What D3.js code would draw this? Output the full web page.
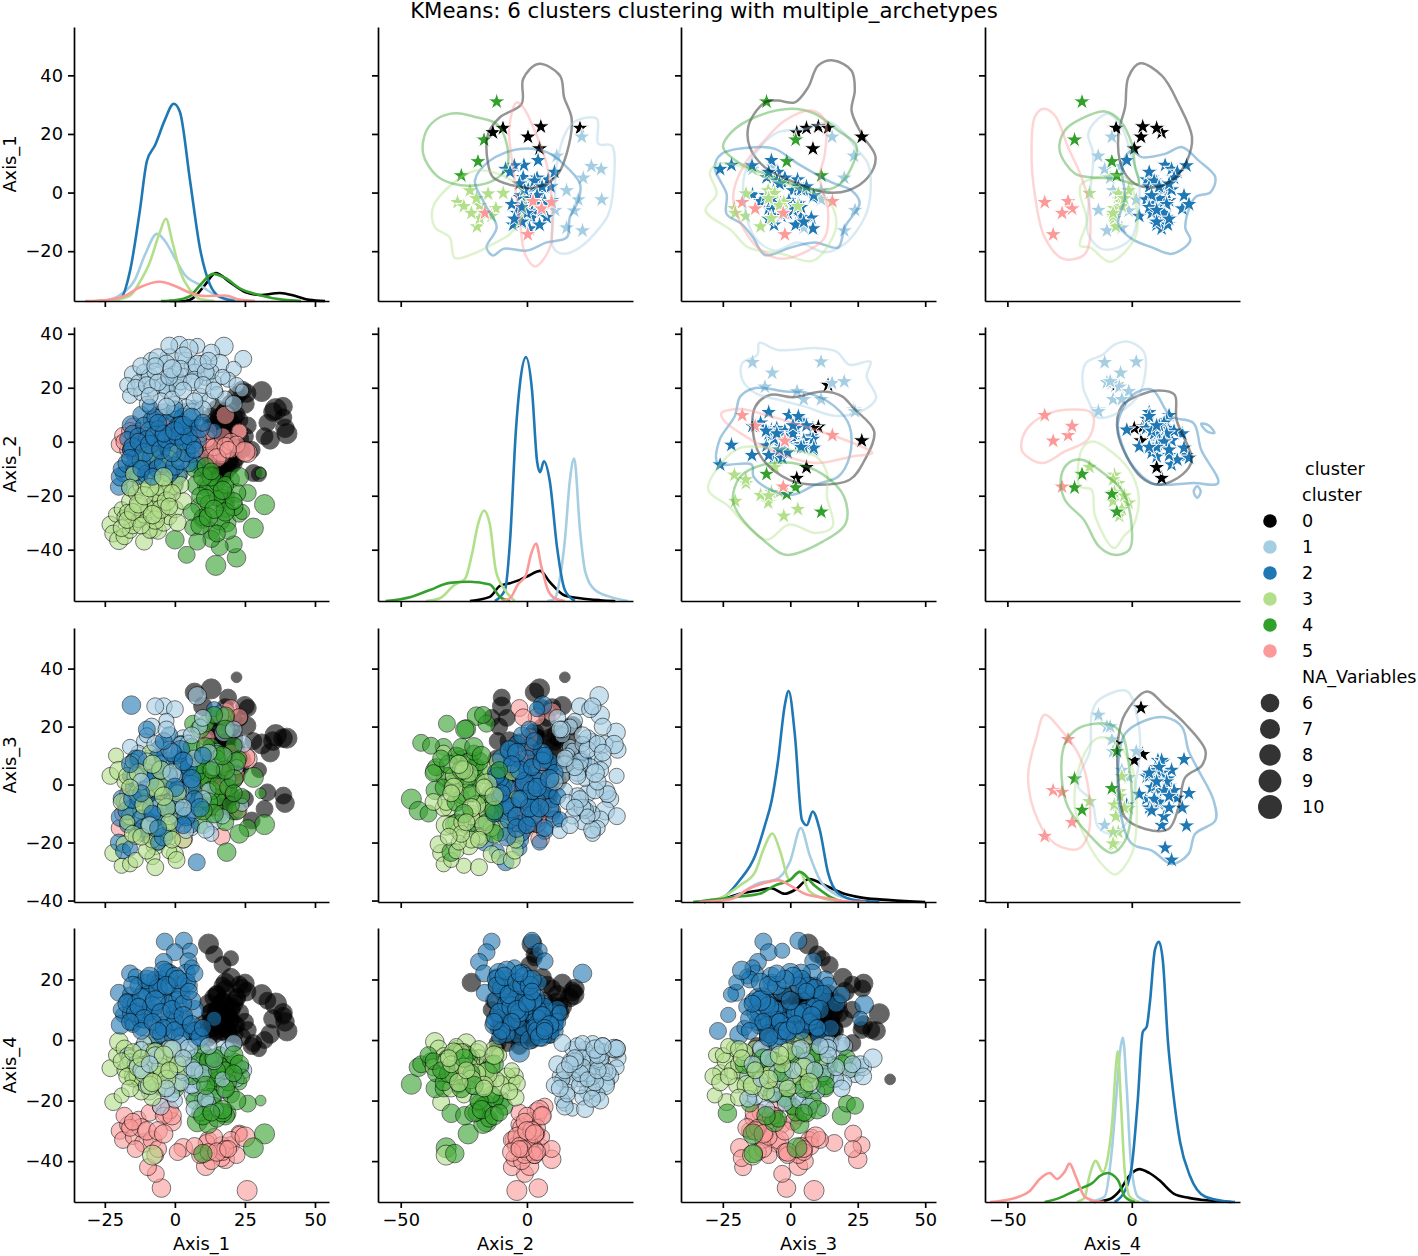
<!DOCTYPE html>
<html>
<head>
<meta charset="utf-8">
<script src="https://cdn.jsdelivr.net/npm/d3@7"></script>
<style>
  body { margin: 0; background: #fff; }
  text { font-family: "DejaVu Sans", sans-serif; fill: #000; }
  .axis text { font-size: 17.8px; }
  .axis path, .axis line { stroke: #000; stroke-width: 1.7px; }
</style>
</head>
<body>
<div id="chart"></div>
<script>
// Labels
const axisNames = ["Axis_1", "Axis_2", "Axis_3", "Axis_4"];
const clusterNames = ["0", "1", "2", "3", "4", "5"];
const clusterColors = ["#000000", "#a6cee3", "#1f78b4", "#b2df8a", "#33a02c", "#fb9a99"];
const naLevels = [6, 7, 8, 9, 10];

// Tick values and axis limits, one entry per variable
const ticksX = [[-25, 0, 25, 50], [-50, 0], [-25, 0, 25, 50], [-50, 0]];
const ticksY = [[-20, 0, 20, 40], [-40, -20, 0, 20, 40], [-40, -20, 0, 20, 40], [-40, -20, 0, 20]];
const limitsX = [[-36, 55], [-59, 42], [-40.5, 54], [-59, 43.5]];
const limitsY = [[-37, 56.5], [-59, 42.5], [-40.5, 54], [-53.5, 37]];

// Observations: Axis_1, Axis_2, Axis_3, Axis_4, NA_Variables
const points0 = [
  [40,3,16,3,7],[36,12,17,12,8],[38.6,13,16,9,6],[35,11,15,7,6],[34,0.7,11,2,6],[33,7,-2.7,13,5],
  [38.7,9,-3.8,8,5],[39.3,5,-6.4,6,6],[32,2,-8.4,0,5],[27.4,-3,-12.4,-2,5],[25,14,27.2,18.7,6],
  [31,18.6,14,15,7],[25.6,18,20.3,16,6],[28,-11.6,15,-1,5],[30,-12,5,-3,4],[18,10,26.7,17,5],
  [13,5,33,8.7,7],[7,3,31.8,3,6],[19,-10,30,3.3,5],[22,15,37,-13,2],[12,2,6.6,31.7,7],[14,3,10,28.3,5],
  [17,1,14.6,24.8,5],[20,3,12,27,4],[20,6,19.5,20.6,6],[23,8,23,18.3,5],[15,-14,23,10,5],[10,-10,27,5,6],
  [14,-11,20,7,5],[18,-22,5,19,6],[26,6,26.4,3.3,5],[21,-8,23,-1,5],[13,-8,-5,6,6],[15,-5,2,10,6],
  [17,-2,8,3,6],[19,1,12,8,6],[21,4,16,12,6],[14,6,-8,2,6],[16,9,6,5,6],[18,11,10,11,6],[20,-9,-7,7,5],
  [22,-6,4,14,5],[24,-3,9,1,5],[14,0,13,14,6],[16,3,18,9,6],[18,-11,0,4,6],[20,7,-4,10,6],[22,10,13,5,5],
  [12,-4,4,12,6],[15,12,1,15,6],[25,2,-5,6,5],[17,-13,-7,13,5],
  [12,2,3,1,6],[14,5,9,3,6],[16,8,-3,6,6],[18,11,7,8,6],[20,14,4,11,6],[22,17,11,14,6],[24,19,8,17,6],[13,-6,11,9,6],
  [15,-9,-2,15,5],[17,-12,9,18,5],[19,-7,15,2,6],[21,-4,-9,5,6],[23,1,6,9,6],[15,1,0,7,7],[17,4,4,12,7],[19,-3,14,6,7],
  [13,9,16,4,6],[21,9,2,2,6]
];
const points1 = [
  [1.6,35.9,12,-6,5],[8,35.5,3,-9,4],[17.5,35.3,18,-3,6],[13,33,-5,-12,5],[24.4,30.7,14,-10,5],[16,29,24,-11,6],
  [21,27,9,-8,4],[-2,31,-9,-14,6],[-8.3,30,20,-2,5],[-6,31,-2,-15,6],[-3,29,-12,-7,5],[4,30,8,-4,5],[6,28,-15,-18,4],
  [10,29,5,-20,5],[-15,25,6,-12,5],[-11,26,15,-1,4],[-17,21,-6,-5,4],[-13,22,11,-9,4],[-9,24,-3,-17,5],[-4,21,27,-9,5],
  [0,25,26,-8,5],[3,24,16,-13,5],[7,26,-10,-16,4],[11,24,-8,-5,5],[14,22,-13,-19,4],[19,23,2,-3,4],[22,21,6,-13,4],
  [24,19,-7,-9,3],[-16,17,13,-7,4],[-12,18,-11,-3,4],[-8,20,4,-11,5],[-3,19,22,-10,4],[1,20,-4,-2,5],[8,28.6,30.6,-6,6],
  [-7,26,27,-12,5],[9,17,20,-14,4],[12,15,-2,-21,4],[15,18,12,-23,3],[18,16,10,-17,4],[4,13,-16,-12,4],[0,14,3,-20,4],
  [-5,15,7,-22,5],[-10,14,17,-13,4],[6,11,1,-15,5],[10,12,23,-8,5],[2,22,14,-1,4],[-1,16,-6,-18,4],[21,14,19,-1,5],
  [13,26,-17,-6,4],[5,34.5,13.8,-2.8,6],[-2,35.6,-10.9,-2.8,5],[3,32,-3.3,-10.6,5],[7,23,-8.8,-22.8,5],[11,25.8,-15.6,-19.4,5],
  [-14,20,3,-8,5],[-10,21,8,-15,5],[-6,22,-8,-6,5],[-2,24,12,-11,5],[2,27,-2,-14,5],[6,22,17,-9,5],[10,21,-5,-11,5],
  [14,19,6,-7,5],[17,24,-11,-13,4],[-12,28,1,-10,5],[-7,28,14,-5,5],[-1,27,4,-3,6],[3,19,-8,-6,5],[7,15,9,-10,5],
  [-3,13,19,-16,5],[12,30,11,-2,5],[-9,17,-14,-8,5]
];
const points2 = [
  [-3.6,-14,-10,32.5,5],[3.2,2,3,32.8,5],[0,-16,-8,29,5],[5.4,5,-3,29.5,4],[-4,-19,-12,25.8,5],[4.8,7,8.5,26,5],
  [-16,-17,-13,22,5],[-14,-12,-16,21,4],[-20,-16.7,-20,15.6,5],[-18.5,-12,-23,8.3,4],[7.8,-8.5,-26.8,3,5],[-16,-3,-22,15,4],
  [-15.5,6.2,27.4,11.7,6],[-19.4,-13,-11.3,5,6],[-19,-10,-4.8,10,5],[14,4,26,7,4],[-2,22,8,22,6],[-6,-3,-19,1.7,6],[-7,-3,4,-4,7],
  [-12,10,-9,7,5],[-8,8,-1,9,6],[-4,11,3,5,5],[0,10,-5,9,5],[4,11,-12,6,5],[7,12,6,10,6],[-15,3,-8,6,5],[-11,6,2,8,5],
  [-7,9,8,5,5],[-3,7,-16,11,5],[1,6,10,4,5],[5,8,-2,2,5],[-17,1,-14,13,4],[-13,2,6,18,5],[-9,4,-6,10,6],[-5,1,13,20,5],
  [-1,3,-10,14,7],[3,4,1,7,6],[-16,-3,3,9,4],[-12,-2,-17,4,4],[-8,-1,-3,16,6],[-4,-4,7,17,7],[0,-1,-13,9,5],[4,-2,4,22,6],
  [-14,-6,9,12,5],[-10,-5,-7,19,5],[-6,-7,12,14,5],[-2,-6,-2,6,6],[2,-4,14,18,5],[6,-5,-14,24,4],[-15,-9,-1,5,4],[-11,-10,5,16,5],
  [-7,-9,-15,20,5],[-3,-11,0,22,7],[1,-12,-9,13,6],[5,-8,7,18,5],[-13,-13,-5,7,4],[8,1,-6,0,6],[-5,-8,-1,2,5],[-1,-11,-4,1,4],
  [3,9,-8,2,6],[7,11,4,3,5],[0,12,-4,6,5],[2,6,11,1,6],[-9,13,-12,9,4],[-2,-2,17,12,5],[-10,1,19,15,5],[-6,5,-20,19,4],
  [-17,-8,-9,12,6],[-14,-11,2,9,6],[-12,-7,-12,14,6],[-10,-12,4,20,6],[-8,-6,-8,11,7],[-6,-10,9,17,6],[-4,-8,-18,23,6],
  [-2,-12,3,18,5],[0,-9,-7,21,6],[2,-7,12,15,6],[4,-4,-11,19,6],[6,-1,0,13,6],[-15,-2,-5,18,6],[-13,0,9,11,5],[-11,-4,-15,7,6],
  [-9,-1,1,21,6],[-7,2,-11,13,7],[-5,-3,5,9,6],[-3,1,-8,18,6],[-1,-4,11,10,6],[1,2,-2,20,6],[3,0,-14,12,5],[5,2,6,16,5],
  [7,-3,-5,22,5],[-16,-6,7,6,5],[-12,-10,-3,3,5],[-8,-13,-10,6,5],[-4,3,15,4,5],[0,4,-1,3,6],[3,6,8,8,6],[6,9,2,5,6],
  [9,5,-8,1,6],[10,7,10,4,5],[-6,7,-15,3,5]
];
const points3 = [
  [-23,-30.7,3,-9.3,5],[-21,-27,10,-5,4],[-22,-34,-23.6,-20.5,5],[-19,-25,-28,-18.3,4],[-8,-32,-14,-38,7],[-20,-36.5,4.8,-0.6,6],
  [-18,-35,-20.6,-2.8,5],[-16,-33,-27.5,-5,4],[-14,-30,-26,-10.6,4],[-12,-28,-13,-3,5],[-10,-26,-5,-8,5],[-8,-24,2,-1,6],
  [-6,-22,-10,-6,5],[-4,-20,6,-4,5],[-2,-18,-18,-9,5],[0,-14,-24,-7,5],[2,-12,6,-5,4],[-15,-31,-8,-12,5],[-13,-29,0,-7,4],
  [-11,-27,-16,-13,5],[-9,-25,9,-4,5],[-7,-23,-21,-10,6],[-5,-21,-3,-15,6],[-3,-19,-12,-6,5],[-1,-16,-6,-14,7],[1,-13,3,-3,5],
  [-18,-28,1,-10,4],[-16,-22,-11,-6,5],[-14,-19,-18,-11,4],[-12,-16,5,-14,5],[-10,-14,-2,-9,5],[-8,-11,-25,-5,4],[-6,-33,-8,-11,5],
  [-4,-30,-14,-16,5],[-2,-28,-23,-2,4],[0,-25,0,-12,5],[3,-22,-19,-8,5],[-11,-37,-6,-9,5],[-9,-33,11,-7,4],[-7,-19,-28.5,-12,5],
  [-6,-27,-20,-15,4],[0.6,-6,-26,-14,5],[-10,-4.8,-22.8,-12,5],[-5,-8,-11,-12,5],[-3,-10.7,-16,-15,7],[1,-4,-5,-14.4,5],
  [-8,-4.5,-19,-19,5],[-12,-7,-9,-17,5],[-2,-6,4,-10,4],[-15,-12,8,-13,4],[-7,-14,-15,-8,5],[2,-16,-9,-10,5],[-13,-24,-3,-12,6],
  [-17,-26,-13,-8,4],[-5,-16,0,-11,8],
  [-19,-32,-6,-7,5],[-17,-29,3,-12,5],[-15,-26,-17,-4,5],[-13,-23,4,-9,6],[-11,-20,-7,-11,6],[-9,-17,-14,-15,6],[-7,-29,-1,-4,6],
  [-5,-25,5,-9,6],[-3,-22,-8,-13,6],[-1,-19,-19,-3,5],[1,-30,-3,-8,5],[-16,-17,-1,-16,5],[-12,-31,-18,-6,5],[-8,-27,7,-14,6],
  [-4,-13,-4,-5,6],[-2,-24,-13,-10,5]
];
const points4 = [
  [32,-23.3,-13.8,-31,7],[30.6,-11.6,-3,-20,2],[28,-32,2.5,-35.6,7],[26,-19,-15,-21,5],[14.6,-45.8,-5,-14.6,7],[22,-43,-9,-9,6],
  [4.2,-41.9,14.4,-8,5],[0,-36.3,-2,-16,6],[18.5,-30,-23.3,-24.2,6],[10,-28.6,-13.7,-37.5,6],[6.5,-31.7,21,-6,5],[18,-20,23.6,-9,6],
  [9,-24,19.2,-8,6],[13,-33,13,-16,5],[21,-38,13.4,-7,5],[16,-39,-10,-5,5],[23,-27,9,-14,4],[18,-24.6,19,-25,6],[11,-16,21,-21,5],
  [14,-17.4,24,-21.7,5],[8,-16,-5.8,-27,7],[12,-17.4,3.5,-27.8,6],[15,-15,-4.5,-26,5],[9,-20,2,-24,5],[7,-10,-1,-20,5],[11,-9,1,-22,5],
  [13,-13,-2,-19,6],[17,-21,6,-24,6],[20,-14,-7,-18,5],[22,-19,8,-20,6],[24,-26,-4,-12,4],[10,-28,10,-4,5],[13,-36,6,-11,5],[16,-29,0,-9,7],
  [19,-33,-1,-14,5],[8,-37,4,-7,5],[6,-26,13,-12,5],[12,-23,8,-6,5],[15,-21,11,-13,4],[18,-16,-13,-10,5],[21,-24,2,-5,6],[23,-13,-17,-8,6],
  [9,-31,7,-11,6],[12,-28,-6,-7,6],[15,-34,9,-10,5],[18,-26,5,-16,6],[21,-22,-3,-11,5],[11,-21,13,-15,6],[14,-25,-10,-6,6],
  [17,-18,10,-23,6],[10,-13,-9,-25,6],[13,-11,5,-24,5]
];
const points5 = [
  [25.8,-4,8.8,-49.7,7],[-4.8,4.5,-1.4,-48.9,6],[-6.8,-0.8,-3,-44.2,5],[18,9.8,25,-39.4,6],[20,-3,26.4,-34.7,5],[23,3.8,23.3,-30.9,5],
  [3,5.2,-18.7,-35.6,6],[-9.6,-6,-17.5,-42,5],[16.7,-5,-18,-39,5],[11,1,3,-41.7,6],[13,-2,5.4,-40,5],[-19.7,-1,-15,-30,5],
  [-18.5,2.2,-10,-33,5],[-16.7,-3,-3.2,-28,5],[-15,6,8,-32,4],[-13,4,-14,-26,4],[-11,0,-5,-34,6],[-9,-3,-11,-24,5],[-7,3,-8,-38,5],
  [-5,7,1,-22,5],[-3,4,-13,-24,7],[-1,2,-9,-27,6],[1,0,-12,-37,5],[-2,5,-6,-23,6],[-12,-2,-16,-29,6],[-8,-5,-4,-33,6],[-4,6,3,-25,5],
  [-14,3,5,-36,5],[-6,9.8,-10,-36,5],[11.9,-6,7,-33,5],[23,3.8,-9,-31,4],[16.7,-4,7.2,-35,6],[11.3,1,16.3,-34,5],[14,-2,-8,-32,5],
  [17,2,-2,-37,5],[20,0,11,-33,5],[22,-1,3,-38,5],[25,-3.6,9.4,-32,7],[9,3,-1,-38,5],[7,-3,4,-35,5],[18,-1.5,23.2,-36,5],
  [-18,0,-6,-25,5],[-16,4,-12,-29,5],[-15,-1,1,-27,5],[-10,2,-13,-30,6],[-6,0,-2,-30,6],[-1,6,-7,-25,6],[-4,3,-10,-31,6],
  [12,4,5,-37,5],[15,-6,-1,-37,6],[19,-3,5,-36,5]
];
const pointsByCluster = [points0, points1, points2, points3, points4, points5];

// Star markers of the upper triangle: Axis_1, Axis_2, Axis_3, Axis_4
const stars0 = [[20.5,-13.5,2.4,12],[22,-9.5,6,10],[19,0.4,26.5,3.7],[22.5,5.5,10.4,4.4],[15,5,8.4,1],[22,21,14,-6.3]];
const stars1 = [[19,21.7,15.5,-8],[12.5,11.8,23.6,-13.5],[8,29.4,-14,-10.9],[-2.4,29.6,11.4,1.8],[9,25.5,-6.7,-4.5],[-13,22,20,-10],
  [-2.4,20.3,-9.4,-5],[-6.2,18.7,2.5,-1.2],[0.7,15.7,11.4,-7.5],[-12,15.7,5,-4],[-6,11.2,24,-13.4],[5,22.3,20,-8.7]];
const stars2 = [[11,4.4,-7,-2],[9.4,-1.2,-21.8,13.4],[9.2,-5,-14.2,22],[8,-8.5,-26,16],[7,-6.7,-4.6,18.3],[5.2,-1.5,-8.8,8],[4.4,8.4,2.7,6],
  [3.5,2.5,-3,10],[0.7,1.2,1,13.8],[-0.7,5.8,-14,12],[-1.6,-2.8,8.4,10.5],[-2.4,5,-5,5.8],[-2.7,9.8,-0.5,15],[-3.8,-1.5,3,9],
  [-5.5,3,-8,20.3],[-8,-1.8,-3.3,3],[-8.6,1.9,7.8,12.4],[-8.4,7.8,4,14],[-11,-5.5,-6,10],[-12.3,1,8.4,12],[-11,5,2,14.5],
  [7,10.9,-8,7],[2,9.4,3,7],[-6,2.6,-6.7,11],[-1,-2.3,8.7,21],[-4,-6,-3,23],[1,0.5,5,16],[-7,-4,-1,8],[-3,7,-11,13],[5,4,-2,17],
  [-2,1,-6,11],[1,-1,4,12],[4,3,-5,9],[-4,3,1,14],[-7,0,-2,13],[-10,-2,5,10],[2,6,6,11],[-1,4,-9,8],[-5,-2,4,7],[-6,6,1,10],[-9,-5,-8,15],[3,-3,-4,15]];
const stars3 = [[-3.3,-27.5,-2.4,-5],[0.7,-22.6,-8.2,-1.3],[-0.4,-15.4,-16.4,-5.4],[-0.2,-9.4,-5.8,-17],[-4.4,-18.7,-4,-4.7],[-5.4,-12.3,-20.7,-7],
  [-11.6,-19.8,-11,-6.4],[-8.8,-18.7,-7,-7],[-4.7,-25,2.8,-4],[-8,-14,-16.5,-7.5],[-7,-22,-20.4,-7.5],[-2,-20,-8,-3]];
const stars4 = [[31,-12,-8.8,-20],[18,-17,2,-23],[10.6,-19.4,-1.3,-8],[5.8,-26,11.5,-6]];
const stars5 = [[-14.3,0.3,-2,-31.6],[-3,2.4,15.6,-25.6],[-5.5,5.8,-13,-24],[-3.3,9.8,-17.8,-35],[-7,-16.7,-2.6,-28]];
const starsByCluster = [stars0, stars1, stars2, stars3, stars4, stars5];

// Diagonal density curves: value, density as percent of axis height
const kdeAxis1 = [
  [[-2,0],[3.6,0],[7,1.5],[10.7,5.8],[14.6,10.2],[19.6,6.9],[25,3.3],[30.4,2.2],[37.5,2.9],[43,1.8],[48,0.4],[53.6,0]],
  [[-25,0],[-19.6,2.2],[-14.3,7.7],[-10.7,16.8],[-6.4,24.5],[-3.6,22],[0,15.7],[3.6,9.5],[9,5.8],[14.3,2.2],[19.6,0.7],[25,0]],
  [[-27,0],[-19.6,0.7],[-16,11],[-12.5,33],[-10,51],[-7,57],[-3.6,66],[-0.4,72],[1.8,69],[5.4,44],[9,19],[12.5,6],[16,1.5],[21.4,0]],
  [[-28,0],[-21.4,0.4],[-16,2],[-12.5,7],[-9,14],[-5.4,25],[-3.2,30],[-1,22],[1.8,11],[5.4,4],[9,0.7],[14,0]],
  [[-5,0],[0,0.3],[5.4,1.8],[9,5.8],[13.6,9.9],[18,8.4],[23,4.7],[30,2.2],[39,0.4],[45,0]],
  [[-32,0],[-25,0.3],[-18,1.8],[-12.5,5],[-5.4,7],[0,5.5],[5.4,3],[10.7,1.8],[18,2],[23,0.5],[28.6,0]]
];
const kdeAxis2 = [
  [[-22.6,0],[-14.7,1.5],[-10.7,5.5],[-6.7,6.5],[-2.8,7.7],[1.2,9.5],[5.2,11],[9,7],[15,2],[21,1],[29,0.3],[35,0]],
  [[8,0],[11,0.8],[13,8],[15,22],[17,44],[18.7,52],[21,26],[23,11],[27,4],[33,1.5],[40,0]],
  [[-12.7,0],[-8.7,4],[-6.7,22],[-4.4,62],[-2.8,79],[-0.4,89],[2,77],[4,51],[5.2,47],[6.7,51],[9,44],[12,19],[15,4],[19,0]],
  [[-40,0],[-34.5,1],[-28.6,6],[-24.6,8],[-21.8,17],[-19.4,28],[-17,33],[-14.7,28],[-12.3,11],[-8.7,4],[-4.8,0]],
  [[-56,0],[-46,1.5],[-38.5,4],[-30.6,6.6],[-22.6,7],[-14.7,6],[-10.7,1.5],[-6.7,0]],
  [[-10,0],[-6.7,1],[-3.6,6],[-0.4,9.5],[1.6,17],[3.6,21],[5.6,13],[8.3,4],[11,1],[15,0]]
];
const kdeAxis3 = [
  [[-32,0],[-26,0.7],[-18.7,3],[-13,4],[-7,5],[-2,3],[1.7,4.4],[7,8.4],[13,6],[20,3],[27,1.5],[37,0.7],[50,0]],
  [[-30,0],[-20.6,2],[-11.3,7],[-5.8,8],[0,15],[3.9,27],[7.2,17],[11,8],[16.5,3],[24,0.7],[29,0]],
  [[-32,0],[-26,1],[-18.7,8],[-13,17],[-9.4,28],[-6.9,37],[-4.6,51],[-2,72],[-0.6,77],[1.7,61],[4.3,30],[6.1,28],[8.3,33],[11,26],[13.9,11],[18,3],[25,0.5],[33,0]],
  [[-36,0],[-26,1.5],[-18.7,6],[-13,11],[-10,19],[-6.6,25],[-3.9,19],[-0.2,8],[3.5,11],[7,4],[14.6,0.7],[22,0]],
  [[-36,0],[-18.7,2],[-11.3,3],[-5.8,6],[-0.2,8],[3.5,11],[9,6],[14.6,2],[20,0]],
  [[-34,0],[-22,1],[-15,5],[-9.4,7],[-4.6,8],[0,6],[5.4,3],[12.8,1.5],[20,0.3],[28,0]]
];
const kdeAxis4 = [
  [[-15,0],[-9,1],[-5,4],[-1,9.5],[3,12],[7,10.6],[11,8],[17,3],[23,1.5],[29,0.7],[40,0]],
  [[-17,0],[-10.9,2],[-8,19],[-6,41],[-4.7,55],[-3.6,60],[-2,41],[-0.4,15],[2.4,2],[7,0]],
  [[-6.9,0],[-2.8,4],[0,13],[2.4,37],[4.4,62],[6,64],[7.3,73],[9.3,92],[10.9,95],[12.5,88],[14.5,59],[16.5,41],[19.4,22],[23.4,9.5],[29.4,2],[37.5,0.3],[41.5,0]],
  [[-22,0],[-19,1.5],[-17,9.5],[-14.5,15],[-11.7,11],[-9.7,16],[-7.7,31],[-6.5,48],[-5.6,55],[-4.4,37],[-2.8,11],[-0.8,2],[3.2,0]],
  [[-35,0],[-29,1.5],[-23,4],[-19,5.5],[-15.7,7],[-12.9,9.5],[-9.7,10.6],[-5.6,8],[-2.8,2],[1.2,0]],
  [[-57,0],[-49,1],[-41,4],[-37,8.4],[-33,10.6],[-30,8.4],[-27,11],[-25,14],[-22.6,9.5],[-19,2],[-15,0.4],[-11,0]]
];
const kdeByAxis = [kdeAxis1, kdeAxis2, kdeAxis3, kdeAxis4];

// Density contours of the upper triangle, x variable then y variable
const contour12 = [
  [[4.5,43.9],[13.1,39.9],[14.7,32.5],[17.7,25.2],[15.7,13.2],[11.8,5.8],[3.8,1.8],[-5.4,2.4],[-13.4,5.2],[-15.4,9.8],[-15.4,20],[-10.7,25.7],[-2.1,30.3],[-1.5,38.8]],
  [[19.7,24.6],[27.7,25.2],[28.3,16.6],[33.6,16],[34.2,1.8],[32.3,-7.3],[29,-11.8],[21,-18.7],[14.4,-20.9],[10.4,-18.7],[11.1,-2.7],[11.8,9.8],[15.8,21.2]],
  [[-2.8,14.9],[7.8,13.8],[14.4,9.8],[21,3],[20.4,-2.7],[17,-8.4],[15.8,-15.3],[7.8,-17],[-0.1,-19.8],[-9.4,-19.2],[-13.4,-21.5],[-16,-18.7],[-12,-11.8],[-16.7,-3.9],[-20.6,4.1],[-14.7,10.9]],
  [[-37.2,-5],[-27.9,4.1],[-20,7.5],[-8,5.2],[-1.5,-0.5],[-0.8,-6.1],[-6.7,-14.1],[-13.4,-17.5],[-21.3,-20.9],[-28.6,-22.3],[-30.6,-15.3],[-36.5,-11.8]],
  [[-27.9,27.1],[-20,25.7],[-12,23.4],[-8,16.6],[-8,8.6],[-13.4,4.1],[-21.3,2.4],[-29.2,3],[-35.8,5.8],[-41.1,13.2],[-39.8,21.2],[-34.5,25.7]],
  [[-4.1,30.8],[-1.5,29.1],[2.5,22.3],[7.8,9.8],[9.8,-3.9],[9.1,-18.7],[3.2,-25.2],[-0.8,-20.9],[-2.8,-9.6],[-5.4,7.5],[-7,22.3]]
];
const contour13 = [
  [[15.9,45.1],[22.7,41.6],[23.9,34.8],[22.7,28],[26.4,20],[31.6,12.1],[28.8,5.2],[21.4,0.7],[12.8,0.1],[2.9,3],[-9.4,8.6],[-15,15.5],[-15.6,22.3],[-12.5,28],[-8.8,31.1],[-4.5,31.4],[1.7,30.8],[6.6,35.9],[10.3,43.3]],
  [[-4.5,20.6],[5.4,21.7],[14.6,24],[19,21.2],[24.5,14.9],[28.8,9.8],[29.7,-0.5],[27.6,-8.4],[20.2,-17.5],[12.8,-20.4],[2.9,-17],[-5.7,-19.8],[-13.1,-15.3],[-16.9,-5],[-16.9,6.4],[-10.7,16]],
  [[-13.1,15.5],[-5.7,14.9],[2.9,9.8],[15.3,3.5],[22.7,0.7],[25.7,-3.6],[20.2,-11.8],[17.7,-18.7],[9.1,-17],[0.4,-18.7],[-9.4,-21.3],[-13.8,-15.3],[-18.1,-10.7],[-23.6,-7.3],[-23.6,-0.5],[-28,8.6],[-25.5,13.2]],
  [[-29.8,6.9],[-27.3,-0.5],[-31.4,-6.1],[-21.8,-13],[-15.6,-18.7],[-3.3,-20.9],[7.9,-23.4],[12.8,-19.8],[17.1,-10.7],[14,-2.7],[2.9,1.3],[-9.4,5.2],[-19.3,9.2],[-26.7,9.8]],
  [[-24.9,15.5],[-21.8,20.6],[-13.1,25.7],[0.4,28.6],[9.1,26.9],[17.7,21.2],[24.5,16],[22.7,8.6],[17.7,2.4],[10.3,0.7],[0.4,3],[-9.4,6.4],[-19.3,10.3]],
  [[7.9,28],[12.8,24.6],[12.8,13.2],[10.9,5.2],[14,-6.1],[12.8,-15.3],[6.6,-19.8],[-3.3,-22.6],[-10.7,-19.8],[-16.9,-13],[-21.2,-1.6],[-16.9,9.8],[-10.7,16.6],[-2,24.6]]
];
const contour14 = [
  [[3.3,44.1],[12.1,39.9],[18.8,30.3],[24.2,18.9],[22.2,10.9],[16.1,4.1],[9.4,1.8],[1.3,3],[-4,8.6],[-5.4,20],[-2.7,29.1],[-1.4,39.3]],
  [[-9.4,26.9],[-4,22.3],[0,12.1],[2.7,5.2],[2.7,-6.1],[0,-15.3],[-5.4,-18.7],[-12.1,-19.2],[-17.5,-14.1],[-16.8,-0.5],[-15.5,13.2],[-17.5,20],[-13.5,25.2]],
  [[0,14.3],[4,12.1],[13.4,13.2],[20.2,15.5],[26.9,10.9],[33.6,5.2],[31.6,0.1],[25.5,-1.6],[21.5,-11.8],[23.5,-16.4],[16.1,-20.9],[8.1,-18.7],[0,-15.8],[-5.4,-10.7],[-2.7,-1.6],[-4,7.5],[-2.7,12.1]],
  [[-20.2,3],[-2.7,5.2],[2,-6.1],[1.3,-15.3],[-8.7,-23.6],[-16.8,-18.7],[-20.8,-18.1],[-18.1,-9.6],[-20.8,-0.5]],
  [[-10.8,27.7],[-4.7,24.6],[0,16.6],[1.3,8.6],[2.7,3],[-6.7,4.7],[-16.8,5.2],[-22.9,6.5],[-29,14.3],[-26.9,21.2],[-20.2,25.2]],
  [[-35.6,28.6],[-30.9,26.3],[-25.6,15.5],[-20.2,5.2],[-16.8,-6.1],[-18.8,-20.9],[-27.6,-22.6],[-35,-15.3],[-39,-0.5],[-40.3,13.2],[-39,25.7]]
];
const contour23 = [
  [[1,16.5],[12.2,18.6],[19.2,16.8],[23.4,12.5],[31.1,3.8],[27.6,-6.7],[22,-14.1],[9.4,-15.9],[-0.4,-14.1],[-10.1,-6.7],[-13.6,2],[-12.9,13.1],[-7.3,17.4]],
  [[-11.5,36.6],[-4.6,34],[9.4,34.7],[17.1,33.4],[22,28.5],[29.7,29.7],[28.3,24.2],[31.8,16.2],[26.2,11.2],[16.4,9.6],[5.2,13.1],[-4.6,15.6],[-12.9,18],[-17.8,23],[-17.8,29.1],[-12.2,32.2]],
  [[-12.9,19.9],[-1.7,18.6],[6.6,18],[16.4,13.1],[22,5.7],[22,-5.4],[17.8,-12.9],[9.4,-15.9],[1,-19.6],[-7.3,-17.8],[-13.6,-12.9],[-14.3,-8.5],[-26.9,-7.9],[-26.2,0.7],[-20.6,9.4],[-18.5,16.8]],
  [[-30.4,-17.8],[-25.5,-7.9],[-18.5,-2.3],[-7.3,-2.3],[9.4,-5.4],[13.6,-11.6],[13.6,-20.3],[15.7,-31.4],[9.4,-33.8],[-0.4,-30.7],[-8.7,-36.3],[-17.1,-30.1],[-22.7,-24]],
  [[-21.3,-21.5],[-18.5,-12.9],[-10.1,-8.5],[1,-7.9],[12.2,-12.2],[19.9,-20.3],[20.6,-30.1],[12.2,-36.9],[-1.7,-41.9],[-8.7,-37.5],[-18.5,-27.7]],
  [[-25.5,10.6],[-18.5,12.1],[-7.3,9.4],[9.4,4.4],[23.4,-0.5],[30.4,-4.2],[23.4,-5.4],[9.4,-7.9],[-4.6,-4.2],[-18.5,3.2],[-24.8,8.1]]
];
const contour24 = [
  [[11.1,19],[17.2,17.4],[18,8.1],[24.1,-6.7],[20.3,-12.2],[11.1,-15.9],[3.5,-12.9],[-5.6,3.2],[-4.1,13.1],[3.5,17.4]],
  [[-1.8,37.1],[4.8,33.4],[5,23],[2,16.2],[-7.1,10],[-14,9.1],[-17,14.3],[-19.6,20.5],[-18.5,29.1],[-11.7,32.2],[-7.1,35.9]],
  [[-5.6,6.9],[0.5,17.4],[8.1,19.3],[15.7,9.4],[24.8,6.9],[27.9,-3],[34.7,-15.3],[24.8,-15.3],[15.7,-15.9],[8.1,-15.3],[0.5,-9.1],[-4.1,-0.5]],
  [[-15.5,0.1],[-10.2,-2.3],[-1,-10.4],[2.8,-20.3],[0.5,-31.4],[-3.3,-35.1],[-7.1,-39.4],[-14.7,-27.7],[-16.2,-17.8],[-20.8,-16.6],[-21.6,-9.1],[-19.3,-1.7]],
  [[-20,-6.7],[-13.2,-10.4],[-4.1,-17.8],[-0.3,-28.9],[-1,-40],[-7.1,-41.9],[-13.2,-38.8],[-19.3,-28.9],[-26.9,-21.5],[-28.4,-12.9],[-25.4,-7.9]],
  [[-17,11.2],[-15.2,8.1],[-17.8,0.7],[-26.9,-3.6],[-36,-7.9],[-43.6,-4.2],[-44.4,-0.5],[-41.3,5.7],[-33,10.6],[-23.9,11.9]]
];
const contour24Islands = [
  [[27.9,6.7],[31,6],[33.2,3.2],[30,4]],
  [[26.3,-16.5],[27.7,-18.4],[26.3,-20.8],[24.9,-18.4]]
];
const contour34 = [
  [[6.1,32.1],[13.4,27.2],[21.5,20.9],[29.6,11.7],[28.2,6.6],[21.5,2.5],[18.8,-7.8],[14.8,-15.3],[5.4,-15.3],[-2.7,-11.3],[-5.4,1.4],[-5.4,16.3],[-2.7,24.4]],
  [[-2,32.2],[2.7,20.9],[3.3,11.7],[1.3,-0.9],[-1.4,-12.4],[-8.1,-17],[-13.5,-14.7],[-16.1,-5.5],[-21.5,-0.9],[-20.8,3.7],[-16.8,11.7],[-16.1,24.4],[-13.5,29]],
  [[-2.7,17.5],[5.4,22.1],[13.4,23.2],[20.2,19.8],[22.8,11.7],[26.9,4.8],[32.9,-5.5],[33.6,-12.4],[25.5,-17],[22.8,-23.9],[16.1,-27.4],[8.1,-22.8],[0,-20.4],[-4.7,-9],[-5.4,7.1]],
  [[-13.5,16.1],[-6.7,14.6],[0,6],[2,-7.8],[0,-23.9],[-6.7,-31],[-12.1,-27.4],[-17.5,-20.4],[-22.9,-7.8],[-20.2,8.3]],
  [[-21.5,19.4],[-9.4,20.9],[-4,17.5],[-1.4,8.3],[0,-7.8],[-2.7,-19.3],[-8.1,-23.6],[-17.5,-17],[-25.6,-7.8],[-28.2,2.5],[-26.9,14]],
  [[-35,24.1],[-28.2,18.6],[-21.5,10.6],[-17.5,-0.9],[-17.5,-17],[-21.5,-22.2],[-30.9,-20.4],[-37.7,-12.4],[-41.7,2.5],[-38.3,16.3]]
];

// Layout of the grid
const colLeft = [74, 378, 681, 985];
const rowTop = [27, 327, 628, 928];
const panelW = 255;
const panelH = 274;

const svg = d3.select("#chart").append("svg")
  .attr("width", 1418)
  .attr("height", 1256);

svg.append("text")
  .attr("x", 704)
  .attr("y", 18)
  .attr("text-anchor", "middle")
  .style("font-size", "21.3px")
  .text("KMeans: 6 clusters clustering with multiple_archetypes");

const xScales = limitsX.map((d, i) => d3.scaleLinear().domain(d).range([colLeft[i], colLeft[i] + panelW]));
const yScales = limitsY.map((d, i) => d3.scaleLinear().domain(d).range([rowTop[i] + panelH, rowTop[i]]));
const sizeScale = d3.scaleSqrt().domain([0, 10]).range([0, 12]);
const star = d3.symbol().type(d3.symbolStar).size(95);
const contourLine = d3.line().curve(d3.curveCatmullRomClosed.alpha(0.5));

// The scatter is painted in row order, so clusters 1-4 are mixed, above 0 and 5
const backClusters = [0, 5];
const mixedClusters = [1, 2, 3, 4];
const scatterRows = backClusters.flatMap(i => pointsByCluster[i].map(row => ({ row, cluster: i })))
  .concat(d3.sort(
    mixedClusters.flatMap(i => pointsByCluster[i].map((row, k) => ({ row, cluster: i, rank: k / pointsByCluster[i].length }))),
    d => d.rank
  ));

function drawContours(g, rows, xi, yi) {
  const x = xScales[xi], y = yScales[yi];
  rows.forEach((ring, c) => {
    g.append("path")
      .attr("d", contourLine(ring.map(d => [x(d[0]), y(d[1])])))
      .attr("fill", "none")
      .attr("stroke", clusterColors[c])
      .attr("stroke-opacity", 0.42)
      .attr("stroke-width", 2.5);
  });
}

// Draw each panel of the grid
axisNames.forEach((rowName, r) => {
  axisNames.forEach((colName, c) => {
    const g = svg.append("g");
    const x = xScales[c], y = yScales[r];

    if (r === c) {
      // Density curve on the diagonal
      const bottom = rowTop[r] + panelH;
      const density = d3.scaleLinear().domain([0, 100]).range([bottom, rowTop[r]]);
      const kdeLine = d3.line().x(d => x(d[0])).y(d => density(d[1])).curve(d3.curveMonotoneX);
      kdeByAxis[r].forEach((curve, i) => {
        g.append("path")
          .attr("d", kdeLine(curve))
          .attr("fill", "none")
          .attr("stroke", clusterColors[i])
          .attr("stroke-width", 2.6);
      });
    } else if (r > c) {
      // Scatter on the lower triangle
      g.selectAll(null)
        .data(scatterRows)
        .enter().append("circle")
        .attr("cx", d => x(d.row[c]))
        .attr("cy", d => y(d.row[r]))
        .attr("r", d => sizeScale(d.row[4]))
        .attr("fill", d => clusterColors[d.cluster])
        .attr("stroke", "#000")
        .attr("stroke-width", 0.9)
        .attr("opacity", 0.6);
    } else {
      // Stars and contours on the upper triangle
      const contourSets = { "01": contour12, "02": contour13, "03": contour14, "12": contour23, "13": contour24, "23": contour34 };
      starsByCluster.forEach((rows, i) => {
        g.selectAll(null)
          .data(rows)
          .enter().append("path")
          .attr("d", star)
          .attr("transform", d => "translate(" + x(d[c]) + "," + y(d[r]) + ")")
          .attr("fill", clusterColors[i])
          .attr("stroke", "#fff")
          .attr("stroke-width", 1);
      });
      drawContours(g, contourSets["" + r + c], c, r);
      if (r === 1 && c === 3) {
        contour24Islands.forEach(ring => {
          g.append("path")
            .attr("d", contourLine(ring.map(d => [x(d[0]), y(d[1])])))
            .attr("fill", "none")
            .attr("stroke", clusterColors[2])
            .attr("stroke-opacity", 0.42)
            .attr("stroke-width", 2.5);
        });
      }
    }

    // Axes, with labels only on the outside of the grid
    const xAxis = d3.axisBottom(x).tickValues(ticksX[c]).tickSizeInner(6).tickSizeOuter(0).tickPadding(5);
    if (r !== 3) xAxis.tickFormat("");
    svg.append("g")
      .attr("class", "axis")
      .attr("transform", "translate(0," + (rowTop[r] + panelH) + ")")
      .call(xAxis);

    const yAxis = d3.axisLeft(y).tickValues(ticksY[r]).tickSizeInner(6).tickSizeOuter(0).tickPadding(5);
    if (c !== 0) yAxis.tickFormat("");
    svg.append("g")
      .attr("class", "axis")
      .attr("transform", "translate(" + colLeft[c] + ",0)")
      .call(yAxis);
  });
});

// Axis names
axisNames.forEach((name, i) => {
  svg.append("text")
    .attr("x", colLeft[i] + panelW / 2)
    .attr("y", 1250)
    .attr("text-anchor", "middle")
    .style("font-size", "17.8px")
    .text(name);
  svg.append("text")
    .attr("transform", "translate(16," + (rowTop[i] + panelH / 2) + ") rotate(-90)")
    .attr("text-anchor", "middle")
    .style("font-size", "17.8px")
    .text(name);
});

// Legend
const legendRow = d3.scaleLinear().domain([0, 1]).range([521, 547]);
const legendText = (label, x, row) => svg.append("text")
  .attr("x", x)
  .attr("y", legendRow(row) + 6)
  .style("font-size", "17.6px")
  .text(label);

legendText("cluster", 1305, -2);
legendText("cluster", 1302, -1);
clusterNames.forEach((name, i) => {
  svg.append("circle")
    .attr("cx", 1270)
    .attr("cy", legendRow(i))
    .attr("r", 6.8)
    .attr("fill", clusterColors[i]);
  legendText(name, 1302, i);
});
legendText("NA_Variables", 1302, 6);
naLevels.forEach((n, i) => {
  svg.append("circle")
    .attr("cx", 1270)
    .attr("cy", legendRow(i + 7))
    .attr("r", sizeScale(n))
    .attr("fill", "#333");
  legendText(n, 1302, i + 7);
});
</script>
</body>
</html>
